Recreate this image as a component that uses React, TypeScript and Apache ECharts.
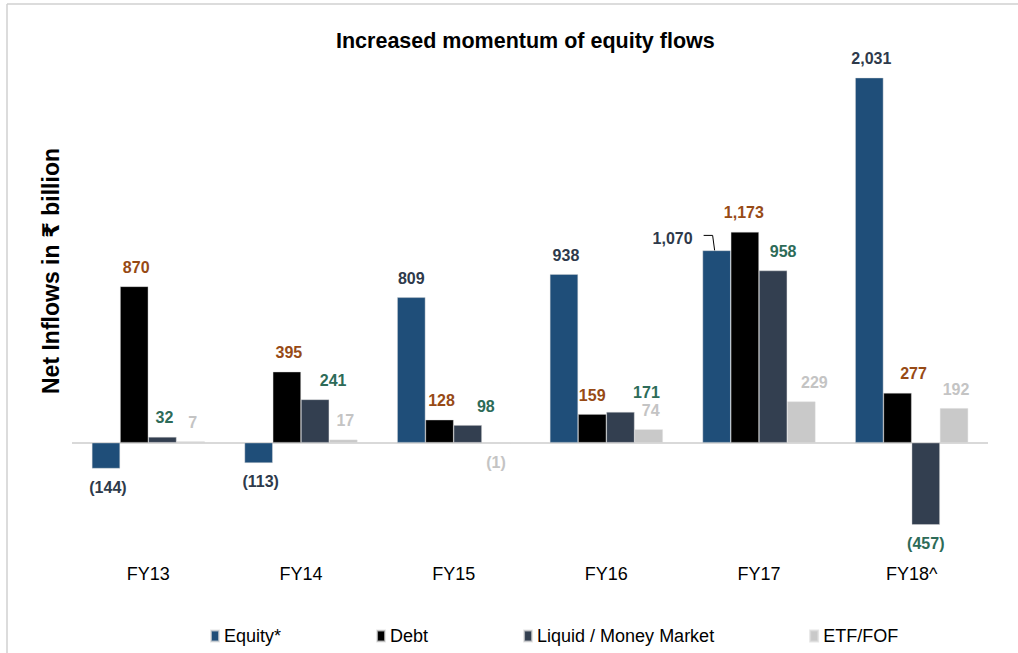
import React, { useEffect, useRef } from "react";
import * as echarts from "echarts";

const CATEGORIES = ["FY13", "FY14", "FY15", "FY16", "FY17", "FY18^"];
const EQUITY = [-144, -113, 809, 938, 1070, 2031];
const DEBT = [870, 395, 128, 159, 1173, 277];
const LIQUID = [32, 241, 98, 171, 958, -457];
const ETF = [7, 17, -1, 74, 229, 192];
const SERIES_NAMES = ["Equity*", "Debt", "Liquid / Money Market", "ETF/FOF"];
const TITLE = "Increased momentum of equity flows";
const Y_NAME = "Net Inflows in ₹ billion";

// styling (label x nudges as placed in the original)
const BAR_COLORS = ["#1f4e79", "#000000", "#333f50", "#c9c9c9"];
const LABEL_COLORS = ["#2e3a4b", "#974a15", "#2d6b58", "#c4c4c4"];
const LABEL_DX = [
  [2, 2, 0, 2, -44, 2],
  [2, 2, 2, 0, -1, 16],
  [2, 18, 18, 26, 10, 0],
  [2, 2, 0, 2, 13, 2],
];
const LABEL_DY = [
  [0, 0, 0, 0, 7, 0],
  [0, 0, 0, 0, 0, 0],
  [0, 0, 0, 0, 0, 0],
  [0, 0, 0, 0, 0, 0],
];

const FONT = "Arial, 'Liberation Sans', sans-serif";

const fmt = (v: number) =>
  v < 0 ? `(${(-v).toLocaleString("en-US")})` : v.toLocaleString("en-US");

export default function App() {
  const ref = useRef<HTMLDivElement>(null);
  useEffect(() => {
    if (!ref.current) return;
    const chart = echarts.init(ref.current, null, { renderer: "svg" });
    const allValues = [EQUITY, DEBT, LIQUID, ETF];
    const series = allValues.map((vals, s) => ({
      name: SERIES_NAMES[s],
      type: "bar",
      barGap: "0%",
      barCategoryGap: "26%",
      itemStyle: { color: BAR_COLORS[s], borderColor: "rgba(220,220,220,0.7)", borderWidth: 0.6 },
      label: {
        show: true,
        distance: 11,
        fontFamily: FONT,
        fontWeight: "bold",
        fontSize: 16,
        color: LABEL_COLORS[s],
        formatter: (p: any) => fmt(p.value),
      },
      data: vals.map((v, i) => ({
        value: v,
        label: {
          position: v < 0 ? "bottom" : "top",
          offset: [LABEL_DX[s][i], LABEL_DY[s][i]],
        },
      })),
      ...(s === 0
        ? {
            markLine: {
              silent: true,
              symbol: "none",
              label: { show: false },
              lineStyle: { color: "#d9d9d9", width: 2, type: "solid" },
              data: [{ yAxis: 0 }],
              z: 1,
            },
          }
        : {}),
    }));

    const option: any = {
      animation: false,
      backgroundColor: "#ffffff",
      title: {
        text: TITLE,
        left: 331,
        top: 25,
        textStyle: {
          fontFamily: FONT,
          fontWeight: "bold",
          fontSize: 21.5,
          color: "#000",
        },
      },
      legend: {
        left: 205,
        top: 622,
        itemGap: 95,
        itemWidth: 8,
        itemHeight: 11,
        icon: "rect",
        textStyle: {
          fontFamily: FONT,
          fontSize: 18,
          color: "#000",
        },
        data: SERIES_NAMES,
      },
      grid: { left: 72, right: 30, top: 65.3, bottom: 102.5 },
      xAxis: {
        type: "category",
        data: CATEGORIES,
        axisLine: { show: false, onZero: false },
        axisTick: { show: false },
        axisLabel: {
          margin: 14,
          fontFamily: FONT,
          fontSize: 18,
          color: "#000",
        },
      },
      yAxis: {
        type: "value",
        min: -600,
        max: 2100,
        axisLine: { show: false },
        axisTick: { show: false },
        axisLabel: { show: false },
        splitLine: { show: false },
      },
      graphic: [
        { id: "frameTop", type: "line", shape: { x1: 7, y1: 4, x2: 1018, y2: 4 }, style: { stroke: "#d0d0d0", lineWidth: 1.5 } },
        { id: "frameLeft", type: "line", shape: { x1: 7, y1: 4, x2: 7, y2: 653 }, style: { stroke: "#d0d0d0", lineWidth: 1.5 } },
        {
          id: "yname",
          type: "text",
          x: 51,
          y: 271,
          rotation: Math.PI / 2,
          style: {
            text: Y_NAME,
            fontFamily: "Arial, 'Liberation Sans', 'DejaVu Sans', sans-serif",
            fontWeight: "bold",
            fontSize: 23,
            fill: "#000",
            textAlign: "center",
            textVerticalAlign: "middle",
          },
        },
      ],
      series,
    };
    chart.setOption(option);

    // leader line for the FY17 equity label, placed through the axes' scales
    const c4 = chart.convertToPixel({ xAxisIndex: 0 }, CATEGORIES[4]) as number;
    const c5 = chart.convertToPixel({ xAxisIndex: 0 }, CATEGORIES[5]) as number;
    const ty = chart.convertToPixel({ yAxisIndex: 0 }, EQUITY[4]) as number;
    const band = c5 - c4;
    const bw = (band * (1 - 0.26)) / 4;
    const bx = c4 - 1.5 * bw;
    chart.setOption({
      graphic: [
        {
          id: "leader",
          type: "polyline",
          shape: { points: [[bx - 13, ty - 15], [bx - 4, ty - 15], [bx - 2, ty]] },
          style: { stroke: "#000", lineWidth: 1, fill: null },
          z: 10,
        },
      ],
    });

    return () => chart.dispose();
  }, []);

  return (
    <div
      ref={ref}
      style={{ position: "fixed", left: 0, top: 0, width: 1018, height: 653, background: "#fff" }}
    />
  );
}
